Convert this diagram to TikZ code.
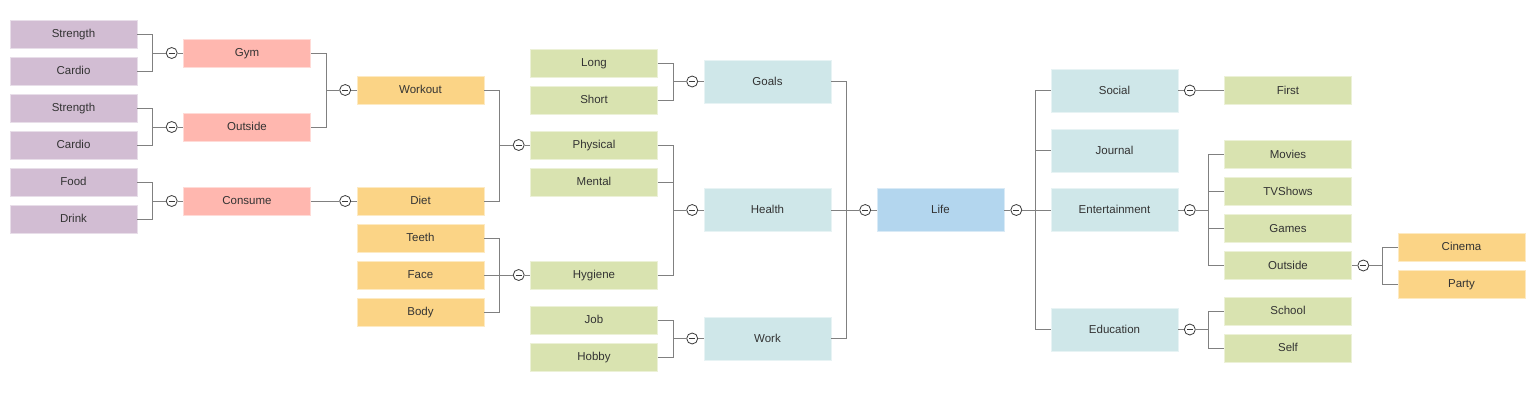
\documentclass[tikz,border=0pt]{standalone}
\usepackage{fontspec}
\setmainfont{Liberation Sans}
\usepackage{xcolor}
\usetikzlibrary{positioning}

\definecolor{mauve}{HTML}{D2BDD3}
\definecolor{salmon}{HTML}{FFB7AF}
\definecolor{apricot}{HTML}{FBD486}
\definecolor{sage}{HTML}{D9E3B0}
\definecolor{ice}{HTML}{CFE7E9}
\definecolor{sky}{HTML}{B3D6EE}
\definecolor{linec}{HTML}{808080}
\definecolor{circc}{HTML}{3A3A3A}
\definecolor{txt}{HTML}{333333}

\tikzset{
  box/.style={rectangle, draw=#1!50!white, line width=0.8pt, fill=#1, minimum width=127pt, minimum height=28pt, inner sep=0pt, text height=8.4pt, text depth=1.4pt, text=txt, font=\fontsize{11.5}{13}\selectfont},
  bigbox/.style={box=#1, minimum height=43pt},
  minus/.style={circle, draw=circc, line width=0.8pt, fill=white, minimum size=11pt, inner sep=0pt,
    path picture={\draw[circc, line width=0.8pt] ([xshift=-3pt]path picture bounding box.center) -- ([xshift=3pt]path picture bounding box.center);}},
  conn/.style={draw=linec, line width=0.9pt}
}

\begin{document}
\begin{tikzpicture}[x=1pt, y=-1pt]
\useasboundingbox (0,0) rectangle (1534,407);

% leaves on the far left
\node[box=mauve] (str1) at (73.5,34) {Strength};
\node[box=mauve] (car1) at (73.5,71) {Cardio};
\node[box=mauve] (str2) at (73.5,108) {Strength};
\node[box=mauve] (car2) at (73.5,145) {Cardio};
\node[box=mauve] (food) at (73.5,182) {Food};
\node[box=mauve] (drink) at (73.5,219) {Drink};

\node[box=salmon] (gym) at (247,53) {Gym};
\node[box=salmon] (outs) at (247,127) {Outside};
\node[box=salmon] (cons) at (247,201) {Consume};

\node[box=apricot] (wkt) at (420.5,90) {Workout};
\node[box=apricot] (diet) at (420.5,201) {Diet};
\node[box=apricot] (teeth) at (420.5,238) {Teeth};
\node[box=apricot] (face) at (420.5,275) {Face};
\node[box=apricot] (body) at (420.5,312) {Body};

\node[box=sage] (long) at (594,63) {Long};
\node[box=sage] (short) at (594,100) {Short};
\node[box=sage] (phys) at (594,145) {Physical};
\node[box=sage] (ment) at (594,182) {Mental};
\node[box=sage] (hyg) at (594,275) {Hygiene};
\node[box=sage] (job) at (594,320) {Job};
\node[box=sage] (hobby) at (594,357) {Hobby};

\node[bigbox=ice] (goals) at (767.5,81.5) {Goals};
\node[bigbox=ice] (health) at (767.5,210) {Health};
\node[bigbox=ice] (work) at (767.5,338.5) {Work};

% root
\node[bigbox=sky] (life) at (940.5,210) {Life};

% right branch
\node[bigbox=ice] (social) at (1114.5,90.5) {Social};
\node[bigbox=ice] (journal) at (1114.5,150.5) {Journal};
\node[bigbox=ice] (ent) at (1114.5,210) {Entertainment};
\node[bigbox=ice] (edu) at (1114.5,329.5) {Education};

\node[box=sage] (first) at (1288,90.5) {First};
\node[box=sage] (movies) at (1288,154.5) {Movies};
\node[box=sage] (tvs) at (1288,191.5) {TVShows};
\node[box=sage] (games) at (1288,228.5) {Games};
\node[box=sage] (eout) at (1288,265.5) {Outside};
\node[box=sage] (school) at (1288,311) {School};
\node[box=sage] (self) at (1288,348) {Self};

\node[box=apricot] (cinema) at (1461.5,247) {Cinema};
\node[box=apricot] (party) at (1461.5,284) {Party};

% collapse buttons
\node[minus, left=5.5pt of gym] (cgym) {};
\node[minus, left=5.5pt of outs] (couts) {};
\node[minus, left=5.5pt of cons] (ccons) {};
\node[minus, left=5.5pt of wkt] (cwkt) {};
\node[minus, left=5.5pt of diet] (cdiet) {};
\node[minus, left=5.5pt of phys] (cphys) {};
\node[minus, left=5.5pt of hyg] (chyg) {};
\node[minus, left=5.5pt of goals] (cgoals) {};
\node[minus, left=5.5pt of health] (chealth) {};
\node[minus, left=5.5pt of work] (cwork) {};
\node[minus, left=5.5pt of life] (clifel) {};
\node[minus, right=6pt of life] (cliferr) {};
\node[minus, right=5.5pt of social] (csocial) {};
\node[minus, right=5.5pt of ent] (cent) {};
\node[minus, right=5.5pt of edu] (cedu) {};
\node[minus, right=5.5pt of eout] (ceout) {};

% stubs between boxes and buttons
\draw[conn] (gym.west) -- (cgym.east) (outs.west) -- (couts.east) (cons.west) -- (ccons.east);
\draw[conn] (wkt.west) -- (cwkt.east) (diet.west) -- (cdiet.east);
\draw[conn] (phys.west) -- (cphys.east) (hyg.west) -- (chyg.east);
\draw[conn] (goals.west) -- (cgoals.east) (health.west) -- (chealth.east) (work.west) -- (cwork.east);
\draw[conn] (life.west) -- (clifel.east) (life.east) -- (cliferr.west);
\draw[conn] (social.east) -- (csocial.west) (ent.east) -- (cent.west) (edu.east) -- (cedu.west) (eout.east) -- (ceout.west);

% left brackets
\draw[conn] (str1.east) -| ([xshift=-13pt]cgym.west) |- (cgym.west) (car1.east) -| ([xshift=-13pt]cgym.west);
\draw[conn] (str2.east) -| ([xshift=-13pt]couts.west) |- (couts.west) (car2.east) -| ([xshift=-13pt]couts.west);
\draw[conn] (food.east) -| ([xshift=-13pt]ccons.west) |- (ccons.west) (drink.east) -| ([xshift=-13pt]ccons.west);
\draw[conn] (gym.east) -| ([xshift=-13pt]cwkt.west) |- (cwkt.west) (outs.east) -| ([xshift=-13pt]cwkt.west);
\draw[conn] (cons.east) -- (cdiet.west);
\draw[conn] (wkt.east) -| ([xshift=-13pt]cphys.west) |- (cphys.west) (diet.east) -| ([xshift=-13pt]cphys.west);
\draw[conn] (teeth.east) -| ([xshift=-13pt]chyg.west) |- (chyg.west) (face.east) -- (chyg.west) (body.east) -| ([xshift=-13pt]chyg.west);
\draw[conn] (long.east) -| ([xshift=-13pt]cgoals.west) |- (cgoals.west) (short.east) -| ([xshift=-13pt]cgoals.west);
\draw[conn] (phys.east) -| ([xshift=-13pt]chealth.west) |- (chealth.west) (ment.east) -| ([xshift=-13pt]chealth.west) (hyg.east) -| ([xshift=-13pt]chealth.west);
\draw[conn] (job.east) -| ([xshift=-13pt]cwork.west) |- (cwork.west) (hobby.east) -| ([xshift=-13pt]cwork.west);
\draw[conn] (goals.east) -| ([xshift=-13pt]clifel.west) |- (clifel.west) (health.east) -- (clifel.west) (work.east) -| ([xshift=-13pt]clifel.west);

% right brackets
\draw[conn] (cliferr.east) -| ([xshift=13pt]cliferr.east) |- (social.west) ([xshift=13pt]cliferr.east) |- (journal.west) (cliferr.east) -- (ent.west) ([xshift=13pt]cliferr.east) |- (edu.west);
\draw[conn] (csocial.east) -- (first.west);
\draw[conn] (cent.east) -| ([xshift=13pt]cent.east) |- (movies.west) ([xshift=13pt]cent.east) |- (tvs.west) ([xshift=13pt]cent.east) |- (games.west) ([xshift=13pt]cent.east) |- (eout.west);
\draw[conn] (cedu.east) -| ([xshift=13pt]cedu.east) |- (school.west) ([xshift=13pt]cedu.east) |- (self.west);
\draw[conn] (ceout.east) -| ([xshift=13pt]ceout.east) |- (cinema.west) ([xshift=13pt]ceout.east) |- (party.west);
\end{tikzpicture}
\end{document}
